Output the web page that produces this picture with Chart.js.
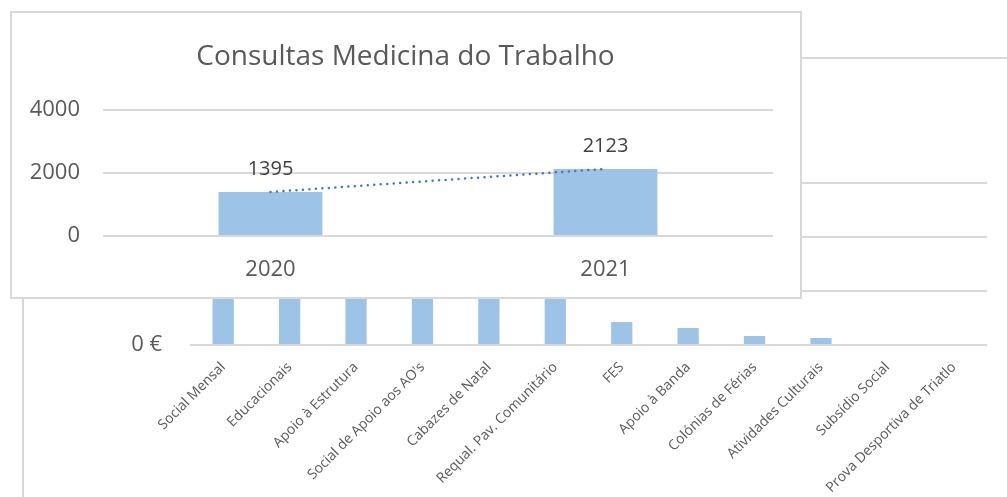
<!DOCTYPE html>
<html lang="pt">
<head>
<meta charset="utf-8">
<title>Consultas Medicina do Trabalho</title>
<script src="https://cdn.jsdelivr.net/npm/chart.js@4/dist/chart.umd.min.js"></script>
<style>
    html, body {
        margin: 0;
        padding: 0;
        width: 1007px;
        height: 497px;
        overflow: hidden;
        background: #ffffff;
    }
    #apoiosFrame {
        position: absolute;
        left: 22px;
        top: 57px;
        width: 1100px;
        height: 600px;
        border: 2px solid #d9d9d9;
    }
    #apoiosBox {
        position: absolute;
        left: 0;
        top: 0;
        width: 1007px;
        height: 497px;
    }
    #consultasBox {
        position: absolute;
        left: 10px;
        top: 11px;
        width: 788px;
        height: 284px;
        border: 2px solid #d9d9d9;
        background: #ffffff;
    }
    #consultasInner {
        position: relative;
        width: 788px;
        height: 284px;
    }
</style>
</head>
<body>
<div id="apoiosFrame"></div>
<div id="apoiosBox"><canvas id="apoiosChart"></canvas></div>
<div id="consultasBox"><div id="consultasInner"><canvas id="consultasChart"></canvas></div></div>

<script>
const BAR_COLOR = '#9DC3E6';
const GRID_COLOR = '#d9d9d9';
const TEXT_COLOR = '#595959';
const FONT = "'Open Sans', 'Noto Sans', sans-serif";

/* Apoios (background chart) */
const apoiosLabels = [
    'Social Mensal', 'Educacionais', 'Apoio à Estrutura', "Social de Apoio aos AO's",
    'Cabazes de Natal', 'Requal. Pav. Comunitário', 'FES', 'Apoio à Banda',
    'Colónias de Férias', 'Atividades Culturais', 'Subsídio Social', 'Prova Desportiva de Triatlo'
];
const apoiosValues = [140000, 125000, 110000, 95000, 80000, 65000, 21300, 15700, 8300, 6500, 0, 0];
const apoiosTicks = [0, 50000, 100000, 150000];

/* Consultas (front chart) */
const consultasYears = ['2020', '2021'];
const consultasValues = [1395, 2123];
const consultasTicks = [0, 2000, 4000];

function euro(value) {
    return value.toLocaleString('pt-PT').replace(/\s/g, ' ') + ' €';
}

// least squares line through the bar values, evaluated at each category
function linearTrend(values) {
    const n = values.length;
    let sx = 0, sy = 0, sxy = 0, sxx = 0;
    values.forEach((v, i) => {
        sx += i; sy += v; sxy += i * v; sxx += i * i;
    });
    const slope = (n * sxy - sx * sy) / (n * sxx - sx * sx);
    const icpt = (sy - slope * sx) / n;
    return values.map((v, i) => icpt + slope * i);
}

const barValueLabels = {
    id: 'barValueLabels',
    afterDatasetsDraw(chart) {
        const ctx = chart.ctx;
        chart.data.datasets.forEach((dataset, di) => {
            if (dataset.type !== 'bar') return;
            const meta = chart.getDatasetMeta(di);
            ctx.save();
            ctx.font = "20px " + FONT;
            ctx.fillStyle = '#404040';
            ctx.textAlign = 'center';
            ctx.textBaseline = 'middle';
            meta.data.forEach((bar, i) => {
                ctx.fillText(String(dataset.data[i]), bar.x, bar.y - 23);
            });
            ctx.restore();
        });
    }
};

// nudge the title box so the text sits a little right of the canvas centre
const titleShift = {
    id: 'titleShift',
    afterLayout(chart) {
        if (chart.titleBlock) chart.titleBlock.left += 26;
    }
};

const apoiosConfig = {
    type: 'bar',
    data: {
        labels: apoiosLabels,
        datasets: [{
            label: 'Apoios',
            data: apoiosValues,
            backgroundColor: BAR_COLOR,
            categoryPercentage: 1,
            barPercentage: 0.32
        }]
    },
    options: {
        responsive: true,
        maintainAspectRatio: false,
        animation: false,
        layout: { padding: { top: 183, right: 20, bottom: 0, left: 0 } },
        plugins: { legend: { display: false }, tooltip: { enabled: false } },
        scales: {
            x: {
                grid: { display: false },
                border: { display: false },
                afterFit: scale => { scale.height = 152; },
                ticks: {
                    autoSkip: false,
                    minRotation: 45,
                    maxRotation: 45,
                    padding: 6,
                    color: TEXT_COLOR,
                    font: { family: FONT, size: 14 }
                }
            },
            y: {
                min: 0,
                max: 150000,
                afterFit: scale => { scale.width = 190; },
                afterBuildTicks: scale => { scale.ticks = apoiosTicks.map(v => ({ value: v })); },
                grid: { color: GRID_COLOR, lineWidth: 2, drawTicks: false },
                border: { display: false },
                ticks: {
                    padding: 28,
                    color: TEXT_COLOR,
                    font: { family: FONT, size: 22 },
                    callback: v => euro(v)
                }
            }
        }
    }
};

const consultasConfig = {
    data: {
        labels: consultasYears,
        datasets: [
            {
                type: 'line',
                label: 'Linear (Consultas)',
                data: linearTrend(consultasValues),
                borderColor: '#4472C4',
                borderWidth: 2.5,
                borderDash: [0, 6.5],
                borderCapStyle: 'round',
                pointRadius: 0,
                fill: false,
                order: 0
            },
            {
                type: 'bar',
                label: 'Consultas',
                data: consultasValues,
                backgroundColor: BAR_COLOR,
                categoryPercentage: 1,
                barPercentage: 0.31,
                order: 1
            }
        ]
    },
    options: {
        responsive: true,
        maintainAspectRatio: false,
        animation: false,
        layout: { padding: { top: 0, right: 27, bottom: 0, left: 0 } },
        plugins: {
            legend: { display: false },
            tooltip: { enabled: false },
            title: {
                display: true,
                text: 'Consultas Medicina do Trabalho',
                color: TEXT_COLOR,
                font: { family: FONT, size: 28, weight: 'normal' },
                padding: { top: 27, bottom: 36 }
            }
        },
        scales: {
            x: {
                grid: { display: false },
                border: { display: false },
                afterFit: scale => { scale.height = 61; },
                ticks: {
                    padding: 13,
                    color: TEXT_COLOR,
                    font: { family: FONT, size: 22 }
                }
            },
            y: {
                min: 0,
                max: 4000,
                afterFit: scale => { scale.width = 91; },
                afterBuildTicks: scale => { scale.ticks = consultasTicks.map(v => ({ value: v })); },
                grid: { color: GRID_COLOR, lineWidth: 2, drawTicks: false },
                border: { display: false },
                ticks: {
                    padding: 23,
                    color: TEXT_COLOR,
                    font: { family: FONT, size: 22 },
                    callback: v => String(v)
                }
            }
        }
    },
    plugins: [barValueLabels, titleShift]
};

let apoiosChart;
let consultasChart;

window.addEventListener('load', function () {
    apoiosChart = new Chart(document.getElementById('apoiosChart'), apoiosConfig);
    consultasChart = new Chart(document.getElementById('consultasChart'), consultasConfig);
});
</script>
</body>
</html>
